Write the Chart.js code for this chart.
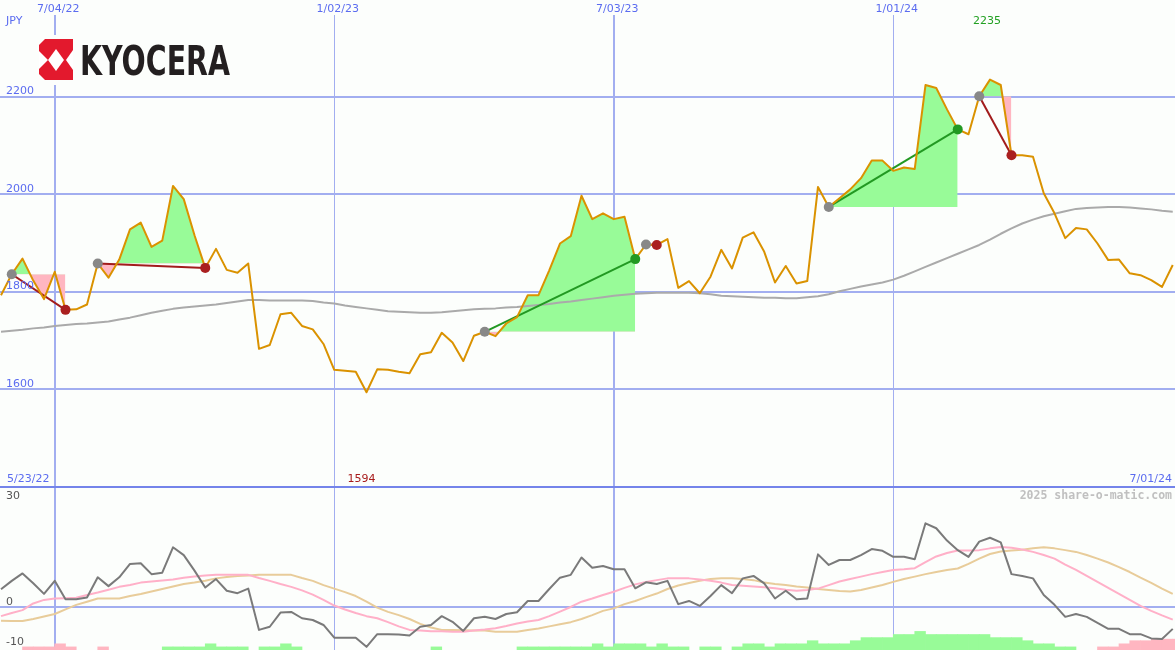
<!doctype html>
<html lang="en">
<head>
    <meta charset="UTF-8"/>
    <title>Kyocera - weekly price</title>
    <script src="https://cdn.jsdelivr.net/npm/chart.js@4.4.1/dist/chart.umd.min.js"></script>
    <style>
        html, body { margin: 0; padding: 0; background: #fcfefc; }
        #wrap { position: relative; width: 1175px; height: 650px; overflow: hidden; }
        #priceChart { position: absolute; left: 0; top: 0; }
        #oscChart { position: absolute; left: 0; top: 488px; }
    </style>
</head>
<body>
<div id="wrap">
    <canvas id="priceChart" width="1175" height="488"></canvas>
    <canvas id="oscChart" width="1175" height="162"></canvas>
</div>

<script>
    // weekly closes, 5/30/22 .. 7/01/24 (index = week)
    const xTickIndex = [5, 31, 57, 83];
    const xTickLabels = ['7/04/22', '1/02/23', '7/03/23', '1/01/24'];
    const rangeLabels = ['5/23/22', '7/01/24'];
    const yTicks = [1600, 1800, 2000, 2200];
    const oscTicks = [30, 0, -10];

    const price = [
        1793, 1836, 1868, 1823, 1785, 1841, 1763, 1764, 1774, 1858,
        1829, 1866, 1928, 1942, 1892, 1905, 2017, 1990, 1916, 1849,
        1888, 1845, 1839, 1858, 1683, 1691, 1754, 1757, 1730, 1723,
        1693, 1640, 1638, 1636, 1594, 1641, 1640, 1636, 1633, 1672,
        1676, 1716, 1696, 1658, 1710, 1718, 1709, 1735, 1748, 1793,
        1793, 1844, 1899, 1914, 1997, 1949, 1961, 1949, 1954, 1867,
        1897, 1896, 1908, 1808, 1822, 1797, 1831, 1886, 1848, 1911,
        1922, 1882, 1819, 1853, 1817, 1822, 2015, 1974, 1992, 2010,
        2033, 2069, 2069, 2048, 2055, 2052, 2224, 2218, 2174, 2133,
        2123, 2201, 2235, 2224, 2080, 2080, 2077, 2002, 1961, 1910,
        1931, 1928, 1899, 1865, 1866, 1838, 1834, 1824, 1810, 1855
    ];

    const avg = [
        1718, 1720, 1722, 1725, 1727, 1730, 1732, 1734, 1735, 1737,
        1739, 1743, 1747, 1752, 1757, 1761, 1765, 1768, 1770, 1772,
        1774, 1777, 1780, 1783, 1783, 1782, 1782, 1782, 1782, 1781,
        1778, 1776, 1772, 1769, 1766, 1763, 1760, 1759, 1758, 1757,
        1757, 1758, 1760, 1762, 1764, 1765, 1766, 1768, 1769, 1771,
        1773, 1775, 1778, 1780, 1783, 1786, 1789, 1792, 1794, 1796,
        1797, 1798, 1798, 1798, 1798, 1797, 1795, 1792, 1791, 1790,
        1789, 1788, 1788, 1787, 1787, 1789, 1791, 1795, 1801, 1806,
        1811, 1815, 1819, 1825, 1833, 1842, 1851, 1860, 1869, 1878,
        1887, 1896, 1907, 1919, 1930, 1940, 1948, 1955, 1960, 1965,
        1970, 1972, 1973, 1974, 1974, 1973, 1971, 1969, 1966, 1964
    ];

    const tradeEntry = [1, 9, 45, 60, 77, 91];
    const tradeExit = [6, 19, 59, 61, 89, 94];

    const osc = [
        5.1, 7.5, 9.6, 6.8, 3.8, 7.5, 2.3, 2.3, 2.8, 8.5,
        6.0, 8.5, 12.3, 12.5, 9.4, 9.8, 17.0, 14.8, 10.4, 5.6,
        8.0, 4.7, 4.0, 5.3, -6.4, -5.5, -1.5, -1.3, -3.1, -3.6,
        -5.0, -8.6, -8.6, -8.6, -11.2, -7.6, -7.6, -7.7, -8.0, -5.5,
        -5.0, -2.5, -4.1, -6.7, -3.1, -2.7, -3.3, -1.9, -1.4, 1.8,
        1.8, 5.2, 8.4, 9.2, 14.1, 11.2, 11.7, 10.8, 10.8, 5.4,
        7.1, 6.6, 7.5, 0.9, 1.8, 0.4, 3.2, 6.3, 4.0, 8.2,
        8.9, 6.8, 2.5, 4.7, 2.3, 2.5, 15.0, 12.0, 13.4, 13.4,
        14.8, 16.5, 16.0, 14.3, 14.3, 13.6, 23.8, 22.4, 18.9, 16.2,
        14.3, 18.6, 19.7, 18.4, 9.4, 8.9, 8.2, 3.5, 0.7, -2.7,
        -1.9, -2.7, -4.4, -6.1, -6.1, -7.6, -7.6, -8.8, -9.0, -6.1
    ];

    const oscFast = [
        -2.5, -1.6, -0.8, 1.1, 2.1, 2.5, 2.6, 2.7, 3.5, 4.2,
        5.0, 5.8, 6.3, 7.0, 7.3, 7.6, 7.9, 8.4, 8.7, 9.0,
        9.2, 9.2, 9.2, 9.2, 8.3, 7.5, 6.6, 5.8, 4.8, 3.6,
        2.1, 0.5, -0.6, -1.6, -2.5, -3.1, -4.2, -5.4, -6.4, -6.6,
        -6.8, -6.8, -6.9, -6.9, -6.6, -6.3, -5.9, -5.3, -4.6, -4.0,
        -3.6, -2.5, -1.2, 0.1, 1.6, 2.5, 3.5, 4.4, 5.5, 6.5,
        7.2, 7.7, 8.2, 8.2, 8.2, 7.9, 7.5, 7.0, 6.3, 6.1,
        5.9, 5.7, 5.4, 5.0, 4.7, 4.9, 5.3, 6.3, 7.3, 8.0,
        8.7, 9.4, 10.0, 10.6, 10.8, 11.1, 12.8, 14.4, 15.4, 16.1,
        16.1, 16.2, 16.7, 17.1, 16.9, 16.4, 15.7, 14.8, 13.8, 12.1,
        10.6, 8.9, 7.2, 5.5, 3.8, 2.1, 0.4, -1.0, -2.3, -3.5
    ];

    const oscSlow = [
        -3.8, -3.9, -3.9, -3.3, -2.6, -1.9, -0.6, 0.7, 1.6, 2.5,
        2.5, 2.5, 3.2, 3.8, 4.5, 5.2, 5.9, 6.6, 7.0, 7.5,
        8.2, 8.6, 8.9, 9.0, 9.2, 9.2, 9.2, 9.2, 8.3, 7.5,
        6.3, 5.3, 4.3, 3.2, 1.6, -0.1, -1.3, -2.2, -3.3, -4.7,
        -5.7, -6.4, -6.4, -6.5, -6.6, -6.6, -6.9, -6.9, -6.9, -6.4,
        -6.0, -5.4, -4.8, -4.2, -3.3, -2.2, -1.0, -0.3, 0.9, 1.8,
        2.9, 3.9, 5.2, 6.2, 6.9, 7.5, 8.0, 8.2, 8.2, 8.0,
        7.7, 7.0, 6.6, 6.3, 5.9, 5.6, 5.2, 4.9, 4.6, 4.5,
        4.9, 5.6, 6.3, 7.2, 8.0, 8.7, 9.4, 10.0, 10.6, 11.0,
        12.3, 13.8, 15.1, 15.8, 16.1, 16.3, 16.7, 17.0, 16.7, 16.2,
        15.7, 14.8, 13.8, 12.7, 11.4, 10.0, 8.4, 6.9, 5.3, 3.8
    ];

    // buy/sell pressure, + green / - pink
    const signal = [
        0, 0, -1, -1, -1, -2, -1, 0, 0, -1,
        0, 0, 0, 0, 0, 1, 1, 1, 1, 2,
        1, 1, 1, 0, 1, 1, 2, 1, 0, 0,
        0, 0, 0, 0, 0, 0, 0, 0, 0, 0,
        1, 0, 0, 0, 0, 0, 0, 0, 1, 1,
        1, 1, 1, 1, 1, 2, 1, 2, 2, 2,
        1, 2, 1, 1, 0, 1, 1, 0, 1, 2,
        2, 1, 2, 2, 2, 3, 2, 2, 2, 3,
        4, 4, 4, 5, 5, 6, 5, 5, 5, 5,
        5, 5, 4, 4, 4, 3, 2, 2, 1, 1,
        0, 0, -1, -1, -2, -3, -3, -3.5, -3.5, -3.5
    ];

    const BG = '#fcfefc';
    const GRID = 'rgb(162,174,240)';
    const BLUE = '#5b6cf0';
    const FONT = '11px "DejaVu Sans"';
    const GREEN_FILL = '#98fb98';
    const PINK_FILL = '#ffb6c1';
    const X_MIN = -0.093;
    const X_MAX = 109.21;

    const xy = (arr) => arr.map((v, i) => ({x: i, y: v}));

    function text(ctx, str, x, y, color, align, font) {
        ctx.font = font || FONT;
        ctx.fillStyle = color;
        ctx.textAlign = align || 'left';
        ctx.textBaseline = 'middle';
        ctx.fillText(str, x, y);
    }

    function poly(ctx, pts) {
        ctx.beginPath();
        pts.forEach(([x, y], i) => (i ? ctx.lineTo(x, y) : ctx.moveTo(x, y)));
        ctx.closePath();
        ctx.fill();
    }

    function drawVerticals(chart, top) {
        const ctx = chart.ctx;
        const x = chart.scales.x;
        ctx.fillStyle = GRID;
        xTickIndex.forEach((idx, k) => {
            const px = Math.round(x.getPixelForValue(idx));
            if (k % 2 === 0) ctx.fillRect(px - 1, top, 2, chart.height - top);
            else ctx.fillRect(px, top, 1, chart.height - top);
        });
    }

    function drawLogo(ctx) {
        ctx.fillStyle = BG;
        ctx.fillRect(36, 35, 198, 50);
        ctx.fillStyle = '#e3192d';
        poly(ctx, [[45, 39], [73, 39], [73, 80], [45, 80], [39, 74], [39, 45]]);
        ctx.fillStyle = '#ffffff';
        poly(ctx, [[39, 51], [48, 60], [39, 69]]);
        poly(ctx, [[56, 49], [64, 60], [56, 71], [48, 60]]);
        poly(ctx, [[73, 50], [66, 60], [73, 70]]);
        ctx.fillStyle = '#231f20';
        ctx.font = 'bold 40px "DejaVu Sans"';
        ctx.textAlign = 'left';
        ctx.textBaseline = 'alphabetic';
        ctx.fillText('KYOCERA', 80, 75, 150);
    }

    const priceDecor = {
        id: 'priceDecor',
        beforeDatasetsDraw(chart) {
            const ctx = chart.ctx;
            const y = chart.scales.y;
            ctx.save();
            ctx.fillStyle = GRID;
            yTicks.forEach((v) => {
                const py = Math.round(y.getPixelForValue(v));
                ctx.fillRect(0, py - 1, chart.width, 2);
            });
            drawVerticals(chart, 15);
            ctx.fillStyle = 'rgb(116,132,234)';
            ctx.fillRect(0, chart.height - 2, chart.width, 2);
            ctx.restore();
        },
        afterDraw(chart) {
            const ctx = chart.ctx;
            const x = chart.scales.x;
            const y = chart.scales.y;
            ctx.save();
            xTickIndex.forEach((idx, k) => {
                text(ctx, xTickLabels[k], x.getPixelForValue(idx) + 3.5, 9, BLUE, 'center');
            });
            yTicks.forEach((v) => text(ctx, String(v), 6, y.getPixelForValue(v) - 5.5, BLUE));
            text(ctx, 'JPY', 6, 21, BLUE);
            text(ctx, rangeLabels[0], 7, 479, BLUE);
            text(ctx, rangeLabels[1], 1172, 479, BLUE, 'right');

            const hi = Math.max(...price);
            const lo = Math.min(...price);
            text(ctx, String(hi), x.getPixelForValue(price.indexOf(hi)) - 3, 21, '#22a022', 'center');
            text(ctx, String(lo), x.getPixelForValue(price.indexOf(lo)) - 5, 479, '#a81c1c', 'center');

            drawLogo(ctx);
            ctx.restore();
        }
    };

    const oscDecor = {
        id: 'oscDecor',
        beforeDatasetsDraw(chart) {
            const ctx = chart.ctx;
            const y = chart.scales.y;
            ctx.save();
            ctx.fillStyle = GRID;
            const py = Math.round(y.getPixelForValue(0));
            ctx.fillRect(0, py - 1, chart.width, 2);
            drawVerticals(chart, 0);
            ctx.restore();
        },
        afterDraw(chart) {
            const ctx = chart.ctx;
            const y = chart.scales.y;
            ctx.save();
            oscTicks.forEach((v) => {
                let py = y.getPixelForValue(v) - 5;
                if (py > chart.height - 14) py = chart.height - 8;
                text(ctx, String(v), 6, py, '#555555');
            });
            text(ctx, '2025 share-o-matic.com', 1172, 8, '#c0c0c0', 'right', 'bold 11.5px "DejaVu Sans Mono"');
            ctx.restore();
        }
    };

    // trade fills, trade lines, entry / exit dots
    const fillSets = tradeEntry.map((e, k) => ({
        data: price.slice(e, tradeExit[k] + 1).map((v, j) => ({x: e + j, y: v})),
        borderWidth: 0,
        borderColor: 'rgba(0,0,0,0)',
        pointRadius: 0,
        fill: {target: {value: price[e]}, above: GREEN_FILL, below: PINK_FILL},
        order: 4
    }));

    const tradeLines = tradeEntry.map((e, k) => ({
        data: [{x: e, y: price[e]}, {x: tradeExit[k], y: price[tradeExit[k]]}],
        borderColor: price[tradeExit[k]] > price[e] ? '#229922' : '#a21c1c',
        borderWidth: 2,
        pointRadius: 0,
        fill: false,
        order: 2
    }));

    const dots = [];
    const dotColors = [];
    tradeEntry.forEach((e, k) => {
        const out = tradeExit[k];
        dots.push({x: e, y: price[e]}, {x: out, y: price[out]});
        dotColors.push('#888888', price[out] > price[e] ? '#229922' : '#aa2020');
    });

    new Chart(document.getElementById('priceChart'), {
        type: 'line',
        data: {
            datasets: [
                {
                    data: dots,
                    showLine: false,
                    pointRadius: 5,
                    pointBorderWidth: 0,
                    pointBackgroundColor: dotColors,
                    order: 0
                },
                {
                    data: xy(price),
                    borderColor: '#da9200',
                    borderWidth: 2,
                    pointRadius: 0,
                    fill: false,
                    order: 1
                },
                ...tradeLines,
                {
                    data: xy(avg),
                    borderColor: '#aaaaaa',
                    borderWidth: 2,
                    pointRadius: 0,
                    fill: false,
                    order: 3
                },
                ...fillSets
            ]
        },
        options: {
            responsive: false,
            animation: false,
            devicePixelRatio: 1,
            layout: {padding: 0, autoPadding: false},
            plugins: {legend: {display: false}, tooltip: {enabled: false}},
            elements: {line: {tension: 0, borderJoinStyle: 'round'}},
            scales: {
                x: {type: 'linear', display: false, min: X_MIN, max: X_MAX},
                y: {type: 'linear', display: false, min: 1397.7, max: 2398.3}
            }
        },
        plugins: [priceDecor]
    });

    const bars = signal
        .map((v, i) => ({x: i + 0.5, y: Math.abs(v), up: v > 0}))
        .filter((b) => b.y > 0);

    new Chart(document.getElementById('oscChart'), {
        type: 'line',
        data: {
            datasets: [
                {
                    data: xy(osc),
                    borderColor: '#7a7a7a',
                    borderWidth: 2,
                    pointRadius: 0,
                    order: 0
                },
                {
                    data: xy(oscFast),
                    borderColor: 'rgb(255,176,200)',
                    borderWidth: 2,
                    pointRadius: 0,
                    order: 1
                },
                {
                    data: xy(oscSlow),
                    borderColor: 'rgb(232,204,154)',
                    borderWidth: 2,
                    pointRadius: 0,
                    order: 2
                },
                {
                    type: 'bar',
                    data: bars,
                    yAxisID: 'yh',
                    backgroundColor: bars.map((b) => (b.up ? GREEN_FILL : PINK_FILL)),
                    borderWidth: 0,
                    barPercentage: 1,
                    categoryPercentage: 1,
                    order: 3
                }
            ]
        },
        options: {
            responsive: false,
            animation: false,
            devicePixelRatio: 1,
            layout: {padding: 0, autoPadding: false},
            plugins: {legend: {display: false}, tooltip: {enabled: false}},
            elements: {line: {tension: 0, borderJoinStyle: 'round'}},
            scales: {
                x: {type: 'linear', display: false, offset: false, min: X_MIN, max: X_MAX},
                y: {type: 'linear', display: false, min: -12.09, max: 33.8},
                yh: {type: 'linear', display: false, min: 0, max: 52.3}
            }
        },
        plugins: [oscDecor]
    });
</script>
</body>
</html>
